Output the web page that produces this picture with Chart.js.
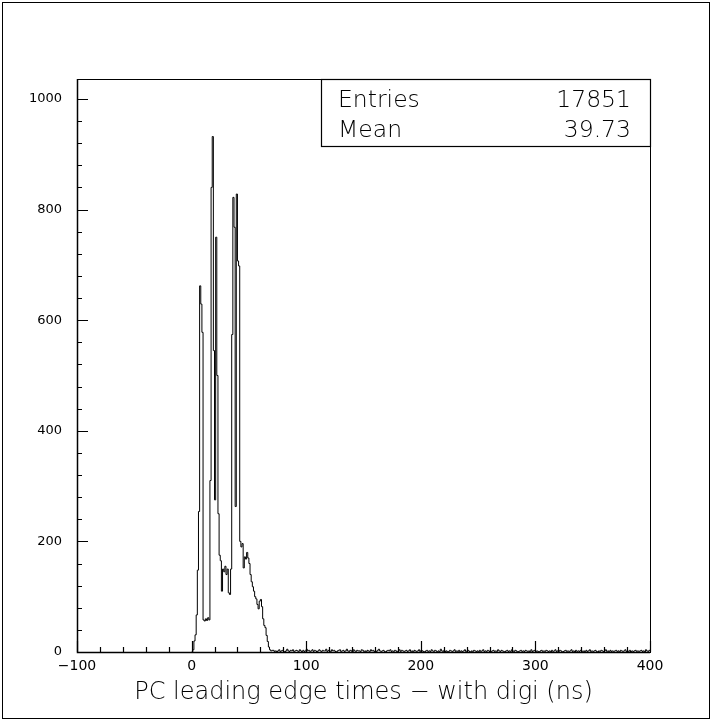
<!DOCTYPE html>
<html>
<head>
<meta charset="utf-8">
<script src="https://cdn.jsdelivr.net/npm/chart.js@4.4.1/dist/chart.umd.min.js"></script>
<style>
  html, body { margin: 0; padding: 0; background: #fff; }
  #wrap { width: 712px; height: 721px; }
</style>
</head>
<body>
<div id="wrap"><canvas id="hist" width="712" height="721"></canvas></div>
<script>
// Histogram binning (ns), 1 ns bins starting at 0
const binLow = 0;
const binWidth = 1;

// counts for bins 0..70 (the main structure)
const peakCounts = [
  0, 4, 20, 31, 67, 148, 254, 662, 629, 578,
  58, 56, 60, 57, 62, 58, 310, 840, 932, 545,
  275, 750, 500, 250, 175, 165, 110, 150, 145, 155,
  140, 150, 107, 104, 150, 574, 822, 768, 263, 828,
  707, 698, 200, 190, 196, 152, 172, 168, 180, 170,
  160, 140, 127, 118, 110, 100, 96, 86, 78, 92,
  95, 82, 60, 48, 44, 30, 19, 9, 4, 2,
  3
];

// counts for bins 71..399 (flat background)
const tailCounts = [
  3,1,2,0,2,4,1,2,3,1,0,2,5,2,1,3,2,4,1,2,
  3,2,1,4,2,0,3,1,2,5,2,3,1,2,4,1,3,2,0,2,
  4,2,1,3,2,2,5,1,3,2,1,4,2,3,1,0,2,3,4,1,
  2,3,1,2,5,2,1,3,2,0,4,2,1,3,2,2,1,4,3,1,
  2,0,3,2,1,4,2,3,1,2,1,3,5,2,1,2,3,1,0,2,
  3,2,4,1,2,1,3,2,0,2,4,1,3,2,1,2,3,1,2,4,
  1,2,0,3,2,1,2,4,1,3,2,1,0,2,3,1,2,1,4,2,
  1,3,2,0,2,1,5,2,1,3,1,2,0,1,3,2,1,2,4,1,
  2,1,3,0,2,1,2,4,1,2,3,1,0,2,1,3,2,1,2,0,
  3,1,2,4,1,2,1,3,2,0,1,2,3,1,2,1,4,2,1,3,
  2,1,0,2,3,1,2,1,4,2,1,3,2,0,1,2,3,1,2,1,
  3,2,1,2,0,4,1,2,3,1,2,1,0,2,3,1,2,1,3,2,
  1,2,0,3,1,2,4,1,2,1,3,2,0,1,2,3,1,2,1,2,
  4,1,2,0,3,1,2,1,3,2,1,2,0,3,1,2,4,1,2,1,
  2,3,1,0,2,1,3,2,1,2,4,1,2,0,3,1,2,1,2,3,
  1,2,0,3,2,1,2,4,1,2,1,3,0,2,1,2,3,1,2,1,
  2,3,1,2,0,4,2,1,3
];

// axis ranges and ticks
const xRange = [-100, 400];
const yRange = [0, 1036];
const xLabelTicks = [-100, 0, 100, 200, 300, 400];
const yLabelTicks = [0, 200, 400, 600, 800, 1000];
const xTickMarks = [-100, -80, -60, -40, -20, 0, 20, 40, 60, 80, 100, 120, 140, 160, 180,
  200, 220, 240, 260, 280, 300, 320, 340, 360, 380, 400];
const yTickMarks = [0, 40, 80, 120, 160, 200, 240, 280, 320, 360, 400, 440, 480, 520, 560,
  600, 640, 680, 720, 760, 800, 840, 880, 920, 960, 1000];

const xTitle = 'PC leading edge times \u2212 with digi (ns)';
const statEntries = '17851';
const statMean = '39.73';

const counts = peakCounts.concat(tailCounts);

// one point per bin low edge, plus the closing edge at the upper limit
const points = counts.map((c, i) => ({ x: binLow + i * binWidth, y: c }));
points.push({ x: binLow + counts.length * binWidth, y: counts[counts.length - 1] });

const FONT = "'DejaVu Sans', 'Liberation Sans', sans-serif";

// frame, inward tick marks, stats box, page border
const decorations = {
  id: 'decorations',
  afterDraw(chart) {
    const { ctx, chartArea: a } = chart;
    const xs = chart.scales.x, ys = chart.scales.y;
    ctx.save();
    ctx.strokeStyle = '#000';

    // page border
    ctx.lineWidth = 1;
    ctx.strokeRect(2.5, 2.5, 707, 716);

    // plot frame
    ctx.strokeRect(a.left + 0.5, a.top + 0.5, a.right - a.left, a.bottom - a.top);
    ctx.lineWidth = 1.5;
    ctx.beginPath();
    ctx.moveTo(a.left + 0.5, a.top);
    ctx.lineTo(a.left + 0.5, a.bottom + 0.5);
    ctx.lineTo(a.right, a.bottom + 0.5);
    ctx.stroke();

    // tick marks pointing into the plot
    ctx.lineWidth = 1.2;
    ctx.beginPath();
    xTickMarks.forEach(v => {
      const px = Math.round(xs.getPixelForValue(v)) + 0.5;
      const len = xLabelTicks.includes(v) ? 11 : 5;
      ctx.moveTo(px, a.bottom);
      ctx.lineTo(px, a.bottom - len);
    });
    yTickMarks.forEach(v => {
      const py = Math.round(ys.getPixelForValue(v)) + 0.5;
      const len = yLabelTicks.includes(v) ? 11 : 5;
      ctx.moveTo(a.left, py);
      ctx.lineTo(a.left + len, py);
    });
    ctx.stroke();

    // statistics box
    const bx = 321, by = a.top, bw = a.right - 321, bh = 67;
    ctx.fillStyle = '#fff';
    ctx.fillRect(bx, by, bw, bh);
    ctx.lineWidth = 1.2;
    ctx.strokeRect(bx + 0.5, by + 0.5, bw, bh);
    ctx.fillStyle = '#000';
    ctx.font = '300 23.5px ' + FONT;
    ctx.textBaseline = 'alphabetic';
    ctx.textAlign = 'left';
    ctx.fillText('Entries', 338, 107);
    ctx.fillText('Mean', 338, 137);
    ctx.textAlign = 'right';
    ctx.fillText(statEntries, 631, 107);
    ctx.fillText(statMean, 631, 137);
    ctx.restore();
  }
};

new Chart(document.getElementById('hist'), {
  type: 'line',
  data: {
    datasets: [{
      data: points,
      stepped: 'before',
      borderColor: '#000',
      borderWidth: 1,
      pointRadius: 0,
      fill: false,
      tension: 0
    }]
  },
  options: {
    responsive: false,
    animation: false,
    devicePixelRatio: 1,
    layout: { padding: { left: 0, right: 62, top: 79, bottom: 0 } },
    plugins: { legend: { display: false }, tooltip: { enabled: false } },
    scales: {
      x: {
        type: 'linear',
        min: xRange[0],
        max: xRange[1],
        grid: { display: false, drawTicks: false },
        border: { display: false },
        afterBuildTicks: s => { s.ticks = xLabelTicks.map(v => ({ value: v })); },
        afterFit: s => { s.height = 69; },
        ticks: {
          padding: 6,
          maxRotation: 0,
          autoSkip: false,
          color: '#000',
          font: { family: FONT, size: 14 },
          callback: v => String(v).replace('-', '\u2212')
        },
        title: {
          display: true,
          text: xTitle,
          color: '#000',
          font: { family: FONT, size: 24, weight: 300 },
          padding: { top: 0, bottom: 14 }
        }
      },
      y: {
        type: 'linear',
        min: yRange[0],
        max: yRange[1],
        grid: { display: false, drawTicks: false },
        border: { display: false },
        afterBuildTicks: s => { s.ticks = yLabelTicks.map(v => ({ value: v })); },
        afterFit: s => { s.width = 77; },
        ticks: {
          padding: 15,
          autoSkip: false,
          color: '#000',
          font: { family: FONT, size: 13 },
          callback: v => String(v)
        }
      }
    }
  },
  plugins: [decorations]
});
</script>
</body>
</html>
